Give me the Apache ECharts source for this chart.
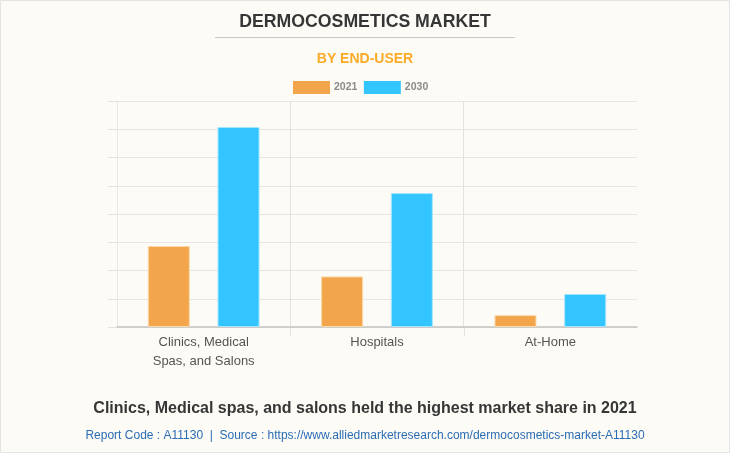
<!DOCTYPE html>
<html lang="en">
<head>
    <meta charset="utf-8">
    <title>Dermocosmetics Market</title>
    <style>
        html, body { margin: 0; padding: 0; background: #fcfbf6; }
    </style>
</head>
<body>

<div id="main" style="width:730px;height:453px;"></div>

<script src="https://cdn.jsdelivr.net/npm/echarts@6/dist/echarts.min.js"></script>
<script type="text/javascript">

    var categories = ['Clinics, Medical\nSpas, and Salons', 'Hospitals', 'At-Home'];
    var years = ['2021', '2030'];
    var values2021 = [2.87, 1.79, 0.42];
    var values2030 = [7.08, 4.74, 1.17];

    var font = '"Liberation Sans", Arial, sans-serif';
    var myChart = echarts.init(document.getElementById('main'));

    var option = {
        backgroundColor: '#fcfbf6',
        animation: false,
        title: [
            {
                text: 'DERMOCOSMETICS MARKET',
                left: 'center', top: 8,
                textStyle: { fontFamily: font, fontSize: 17.7, fontWeight: 'bold', color: '#363636' }
            },
            {
                text: 'BY END-USER',
                left: 'center', top: 47,
                textStyle: { fontFamily: font, fontSize: 14, fontWeight: 'bold', color: '#fcab28' }
            },
            {
                text: 'Clinics, Medical spas, and salons held the highest market share in 2021',
                left: 'center', top: 396,
                textStyle: { fontFamily: font, fontSize: 16, fontWeight: 'bold', color: '#363636' }
            },
            {
                text: 'Report Code : A11130  |  Source : https://www.alliedmarketresearch.com/dermocosmetics-market-A11130',
                left: 'center', top: 425,
                textStyle: { fontFamily: font, fontSize: 12, fontWeight: 'normal', color: '#2b6cb5' }
            }
        ],
        legend: {
            data: years,
            left: 288, top: 76,
            itemWidth: 37, itemHeight: 13, itemGap: 6.5,
            icon: 'rect',
            itemStyle: { borderWidth: 0 },
            textStyle: { fontFamily: font, fontSize: 10.5, fontWeight: 'bold', color: '#8a8a8a', padding: [0, 0, 0, -1] }
        },
        grid: { left: 117, right: 93, top: 101, bottom: 126 },
        xAxis: {
            type: 'category',
            data: categories,
            axisLine: { lineStyle: { color: '#c4c4c0', width: 1.5 } },
            axisTick: { show: false },
            splitLine: { show: true, showMaxLine: false, lineStyle: { color: '#e2e2de' } },
            axisLabel: { fontFamily: font, fontSize: 13, color: '#555555', lineHeight: 19, margin: 6 }
        },
        yAxis: {
            type: 'value',
            min: 0, max: 8, interval: 1,
            axisLine: { show: true, lineStyle: { color: '#e8e8e4' } },
            axisTick: { show: true, length: 9, lineStyle: { color: '#e2e2de' } },
            axisLabel: { show: false },
            splitLine: { show: true, lineStyle: { color: '#e6e6e2' } }
        },
        series: [
            {
                name: years[0], type: 'bar', data: values2021,
                barWidth: 42, barGap: '66%',
                itemStyle: { color: '#f2a54a', borderColor: '#fbd9ae', borderWidth: 1 }
            },
            {
                name: years[1], type: 'bar', data: values2030,
                barWidth: 42,
                itemStyle: { color: '#33c5ff', borderColor: '#a5e4fd', borderWidth: 1 }
            }
        ]
    };

    myChart.setOption(option);

    // ticks only between categories, none at the two ends
    var base = myChart.convertToPixel({ yAxisIndex: 0 }, 0);
    var gridLines = [];
    for (var i = 0; i < categories.length - 1; i++) {
        var x = Math.round((myChart.convertToPixel({ xAxisIndex: 0 }, i) + myChart.convertToPixel({ xAxisIndex: 0 }, i + 1)) / 2) + 0.5;
        gridLines.push({ type: 'line', shape: { x1: x, y1: base, x2: x, y2: base + 9 }, style: { stroke: '#e2e2de', lineWidth: 1 } });
    }

    myChart.setOption({
        graphic: gridLines.concat([
            { type: 'line', shape: { x1: 215, y1: 37.5, x2: 515, y2: 37.5 }, style: { stroke: '#c9c9c5', lineWidth: 1 } },
            { type: 'rect', shape: { x: 0.5, y: 0.5, width: 729, height: 452 }, style: { fill: 'none', stroke: '#e4e4e4', lineWidth: 1 } }
        ])
    });

</script>

</body>
</html>
